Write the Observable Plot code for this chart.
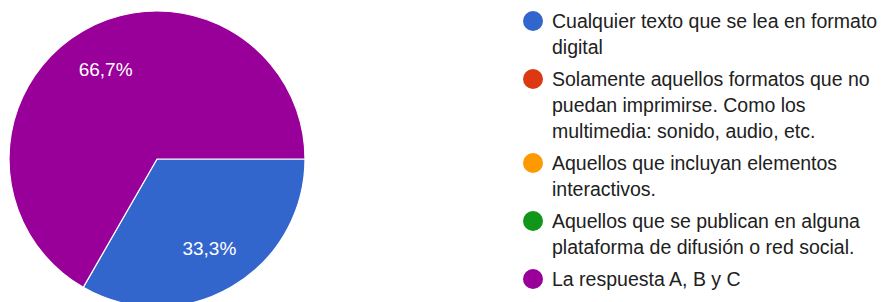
<!DOCTYPE html>
<html>
<head>
<meta charset="utf-8">
<script src="https://cdn.jsdelivr.net/npm/d3@7"></script>
<script src="https://cdn.jsdelivr.net/npm/@observablehq/plot@0.6"></script>
<style>
  html, body { margin: 0; padding: 0; background: #fff; }
  #wrap { position: relative; width: 888px; height: 302px; overflow: hidden; }
  #legend { position: absolute; left: 523px; top: 8px; font-family: "Liberation Sans", Arial, sans-serif; font-size: 19.5px; color: #212121; }
  .item { display: flex; align-items: flex-start; margin-bottom: 6px; }
  .sw { width: 20px; height: 20px; border-radius: 50%; margin-top: 3px; margin-right: 9px; flex: none; }
  .txt { line-height: 26px; white-space: nowrap; }
</style>
</head>
<body>
<div id="wrap"><div id="legend"></div></div>
<script>
const categories = [
  "Cualquier texto que se lea en formato digital",
  "Solamente aquellos formatos que no puedan imprimirse. Como los multimedia: sonido, audio, etc.",
  "Aquellos que incluyan elementos interactivos.",
  "Aquellos que se publican en alguna plataforma de difusión o red social.",
  "La respuesta A, B y C"
];
const legendLines = [
  ["Cualquier texto que se lea en formato", "digital"],
  ["Solamente aquellos formatos que no", "puedan imprimirse. Como los", "multimedia: sonido, audio, etc."],
  ["Aquellos que incluyan elementos", "interactivos."],
  ["Aquellos que se publican en alguna", "plataforma de difusión o red social."],
  ["La respuesta A, B y C"]
];
const percents = [33.3, 0, 0, 0, 66.7];
const percentLabels = ["33,3%", "", "", "", "66,7%"];
const colors = ["#3366cc", "#dc3912", "#ff9900", "#109618", "#990099"];

const data = categories.map((c, i) => ({category: c, value: percents[i], label: percentLabels[i]}));
const arcs = d3.pie().value(d => d.value).sort(null)
  .startAngle(Math.PI / 2).endAngle(Math.PI / 2 + 2 * Math.PI)(data);

const labelData = arcs.filter(a => a.data.value > 0).map(a => {
  const m = (a.startAngle + a.endAngle) / 2;
  return {x: 0.7 * Math.sin(m), y: 0.7 * Math.cos(m), label: a.data.label};
});

function pieMark(index, scales) {
  const cx = scales.x(0), cy = scales.y(0), r = scales.x(1) - scales.x(0);
  const color = d3.scaleOrdinal(categories, colors);
  const arc = d3.arc().innerRadius(0).outerRadius(r);
  const g = d3.create("svg:g").attr("transform", `translate(${cx},${cy})`);
  g.selectAll("path").data(arcs.filter(a => a.data.value > 0)).join("path")
    .attr("d", arc)
    .attr("fill", a => color(a.data.category))
    .attr("stroke", "#fff")
    .attr("stroke-width", 1.2);
  return g.node();
}

const chart = Plot.plot({
  width: 888,
  height: 302,
  margin: 0,
  x: {domain: [-1, 1], range: [9, 305], axis: null},
  y: {domain: [-1, 1], range: [307, 11], axis: null},
  style: {background: "transparent"},
  marks: [
    pieMark,
    Plot.text(labelData, {x: "x", y: "y", text: "label", fill: "white", fontSize: 19, fontFamily: "'Liberation Sans', Arial, sans-serif"})
  ]
});
chart.style.position = "absolute";
chart.style.left = "0";
chart.style.top = "0";
document.getElementById("wrap").prepend(chart);

const legend = d3.select("#legend");
legendLines.forEach((lines, i) => {
  const it = legend.append("div").attr("class", "item");
  it.append("div").attr("class", "sw").style("background", colors[i]);
  const t = it.append("div").attr("class", "txt");
  lines.forEach((l, j) => { if (j) t.append("br"); t.append("span").text(l); });
});
</script>
</body>
</html>
